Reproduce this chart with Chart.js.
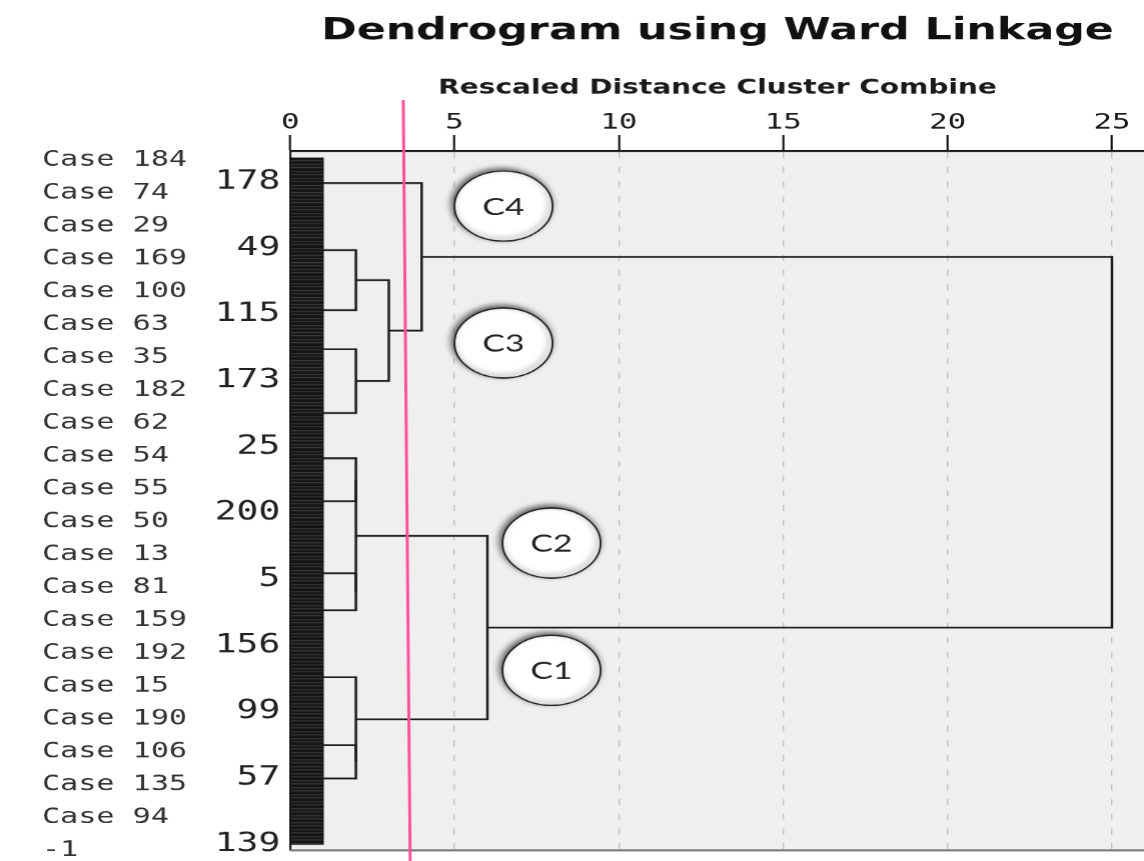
<!DOCTYPE html>
<html>
<head>
<meta charset="utf-8">
<script src="https://cdn.jsdelivr.net/npm/chart.js@4"></script>
<style>
  html, body { margin: 0; padding: 0; background: #fff; overflow: hidden; }
  /* the reference is stretched sideways, so draw narrow and stretch */
  #wrap { width: 817px; height: 861px; transform: scaleX(1.400245); transform-origin: 0 0; }
</style>
</head>
<body>
<div id="wrap"><canvas id="chart"></canvas></div>
<script>
const caseLabels = ["Case 184", "Case 74", "Case 29", "Case 169", "Case 100", "Case 63", "Case 35",
    "Case 182", "Case 62", "Case 54", "Case 55", "Case 50", "Case 13", "Case 81", "Case 159",
    "Case 192", "Case 15", "Case 190", "Case 106", "Case 135", "Case 94", "-1"];
const leafNumbers = ["178", "49", "115", "173", "25", "200", "5", "156", "99", "57", "139"];
const distanceTicks = [0, 5, 10, 15, 20, 25];

// each merge: distance where two branches join, and each branch's own distance / row (leaf order 0..200)
const mergeDistance = [2, 2, 3, 4, 2, 2, 2, 2, 2, 6, 25];
const branchDistance = [[1, 1], [1, 1], [2, 2], [1, 3], [1, 1], [1, 1], [2, 2], [1, 1], [1, 2], [2, 2], [4, 6]];
const branchRow = [[26.8, 44.3], [55.7, 74.3], [35.55, 65.0], [7.3, 50.3], [87.5, 100.0], [121.0, 131.8],
    [93.75, 126.4], [171.1, 180.8], [151.3, 175.95], [110.1, 163.6], [28.8, 136.85]];

// block of leaves on the left
const leafDistance = [0, 1];
const leafRows = [0, 200];

// cluster callouts
const clusterNames = ["C4", "C3", "C2", "C1"];
const clusterDistance = [6.49, 6.49, 7.95, 7.95];
const clusterRow = [14.0, 53.9, 112.2, 149.3];

// hand drawn cut line
const cutDistance = [3.44, 3.65];
const cutRow = [-16.9, 205];

(() => {
    const tile = document.createElement("canvas");
    tile.width = 4; tile.height = 7;
    const t = tile.getContext("2d");
    t.fillStyle = "#151515"; t.fillRect(0, 0, 4, 7);
    t.fillStyle = "#3d3d3d"; t.fillRect(0, 3, 4, 1); t.fillRect(0, 6, 4, 1);
    const stripes = t.createPattern(tile, "repeat");

    const mergeSets = mergeDistance.map((d, i) => ({
        type: "line",
        yAxisID: "y",
        data: [
            { x: branchDistance[i][0], y: branchRow[i][0] },
            { x: d, y: branchRow[i][0] },
            { x: d, y: branchRow[i][1] },
            { x: branchDistance[i][1], y: branchRow[i][1] }
        ],
        borderColor: "#1e1e1e",
        borderWidth: 1.8,
        pointRadius: 0,
        fill: false,
        order: 2
    }));

    const leafSet = {
        type: "line",
        yAxisID: "y",
        data: [
            { x: leafDistance[0], y: leafRows[0] },
            { x: leafDistance[1], y: leafRows[0] },
            { x: leafDistance[1], y: leafRows[1] },
            { x: leafDistance[0], y: leafRows[1] },
            { x: leafDistance[0], y: leafRows[0] }
        ],
        borderColor: "#111",
        borderWidth: 1,
        backgroundColor: stripes,
        fill: "shape",
        pointRadius: 0,
        order: 3
    };

    const clusterSet = {
        label: "clusters",
        type: "line",
        yAxisID: "y",
        data: clusterNames.map((n, i) => ({ x: clusterDistance[i], y: clusterRow[i] })),
        showLine: false,
        pointRadius: 35,
        pointHoverRadius: 35,
        pointBackgroundColor: "#fff",
        pointBorderColor: "#222",
        pointBorderWidth: 1.3,
        clip: false,
        order: 1
    };

    const cutSet = {
        type: "line",
        yAxisID: "y",
        data: cutDistance.map((d, i) => ({ x: d, y: cutRow[i] })),
        borderColor: "#ff4f9b",
        borderWidth: 2.1,
        pointRadius: 0,
        clip: false,
        order: 0
    };

    const plotFrame = {
        id: "plotFrame",
        beforeDraw(chart) {
            const { ctx, chartArea: a } = chart;
            ctx.save();
            ctx.fillStyle = "#efefef";
            ctx.fillRect(a.left, a.top, a.right - a.left, a.bottom - a.top);
            ctx.restore();
        },
        beforeDatasetsDraw(chart) {
            const { ctx, chartArea: a } = chart;
            ctx.save();
            ctx.strokeStyle = "#7a7a7a";
            ctx.lineWidth = 2;
            ctx.beginPath();
            ctx.moveTo(a.left, a.bottom);
            ctx.lineTo(a.right, a.bottom);
            ctx.stroke();
            ctx.restore();
        },
        beforeDatasetDraw(chart, args) {
            if (chart.data.datasets[args.index].label !== "clusters") return;
            const ctx = chart.ctx;
            ctx.save();
            ctx.shadowColor = "rgba(0,0,0,0.6)";
            ctx.shadowBlur = 7;
            ctx.shadowOffsetX = -2;
            ctx.shadowOffsetY = -3;
        },
        afterDatasetDraw(chart, args) {
            if (chart.data.datasets[args.index].label !== "clusters") return;
            const ctx = chart.ctx;
            ctx.restore();
            ctx.save();
            ctx.font = "24px Lato, 'Noto Sans', sans-serif";
            ctx.fillStyle = "#222";
            ctx.textAlign = "center";
            ctx.textBaseline = "middle";
            args.meta.data.forEach((pt, i) => ctx.fillText(clusterNames[i], pt.x, pt.y + 1));
            ctx.restore();
        }
    };

    const mono = "'DejaVu Sans Mono', monospace";
    const noEdgePadding = s => { s.paddingTop = 0; s.paddingBottom = 0; s.paddingLeft = 0; s.paddingRight = 0; };

    new Chart(document.querySelector("#chart"), {
        type: "line",
        data: { datasets: [cutSet, clusterSet, ...mergeSets, leafSet] },
        plugins: [plotFrame],
        options: {
            responsive: true,
            maintainAspectRatio: false,
            devicePixelRatio: 1.4,
            animation: false,
            events: [],
            layout: { autoPadding: false, padding: { left: 30, top: 0, right: 0, bottom: 11 } },
            plugins: {
                legend: { display: false },
                tooltip: { enabled: false },
                title: {
                    display: true,
                    text: "Dendrogram using Ward Linkage",
                    fullSize: false,
                    color: "#111",
                    font: { family: "'DejaVu Sans'", size: 30.5, weight: "bold" },
                    padding: { top: 13, bottom: 0 }
                }
            },
            scales: {
                x: {
                    type: "linear",
                    position: "top",
                    min: 0,
                    max: 26,
                    afterBuildTicks: s => { s.ticks = distanceTicks.map(v => ({ value: v })); },
                    afterFit: s => { s.height = 101.4; noEdgePadding(s); },
                    ticks: {
                        font: { family: mono, size: 22 },
                        color: "#1a1a1a",
                        padding: -1,
                        maxRotation: 0,
                        autoSkip: false
                    },
                    grid: {
                        color: "#c2c2c2",
                        lineWidth: 1,
                        tickLength: 16,
                        tickColor: "#111",
                        tickWidth: 1.5,
                        tickBorderDash: []
                    },
                    border: { display: true, color: "#111", width: 2, dash: [6, 8.7] },
                    title: {
                        display: true,
                        text: "Rescaled Distance Cluster Combine",
                        color: "#1a1a1a",
                        font: { family: "'DejaVu Sans'", size: 20, weight: "bold" },
                        padding: { top: 26.5, bottom: 0 }
                    }
                },
                yCase: {
                    type: "linear",
                    position: "left",
                    weight: 2,
                    reverse: true,
                    min: -0.289,
                    max: 21,
                    afterBuildTicks: s => { s.ticks = caseLabels.map((_, i) => ({ value: i })); },
                    afterFit: s => { s.width = 108; noEdgePadding(s); },
                    ticks: {
                        crossAlign: "far",
                        padding: 0,
                        autoSkip: false,
                        font: { family: mono, size: 21.5 },
                        color: "#333",
                        callback: v => caseLabels[v]
                    },
                    grid: { display: false, drawTicks: false },
                    border: { display: false }
                },
                yNum: {
                    type: "linear",
                    position: "left",
                    weight: 1,
                    reverse: true,
                    min: -0.464,
                    max: 10.095,
                    afterBuildTicks: s => { s.ticks = leafNumbers.map((_, i) => ({ value: i })); },
                    afterFit: s => { s.width = 69.1; noEdgePadding(s); },
                    ticks: {
                        padding: 7,
                        autoSkip: false,
                        font: { family: mono, size: 26 },
                        color: "#222",
                        callback: v => leafNumbers[v]
                    },
                    grid: { display: false, drawTicks: false },
                    border: { display: true, color: "#1a1a1a", width: 1.5 }
                },
                y: {
                    type: "linear",
                    display: false,
                    reverse: true,
                    min: -2.04,
                    max: 201.75
                }
            }
        }
    });
})();
</script>
</body>
</html>
